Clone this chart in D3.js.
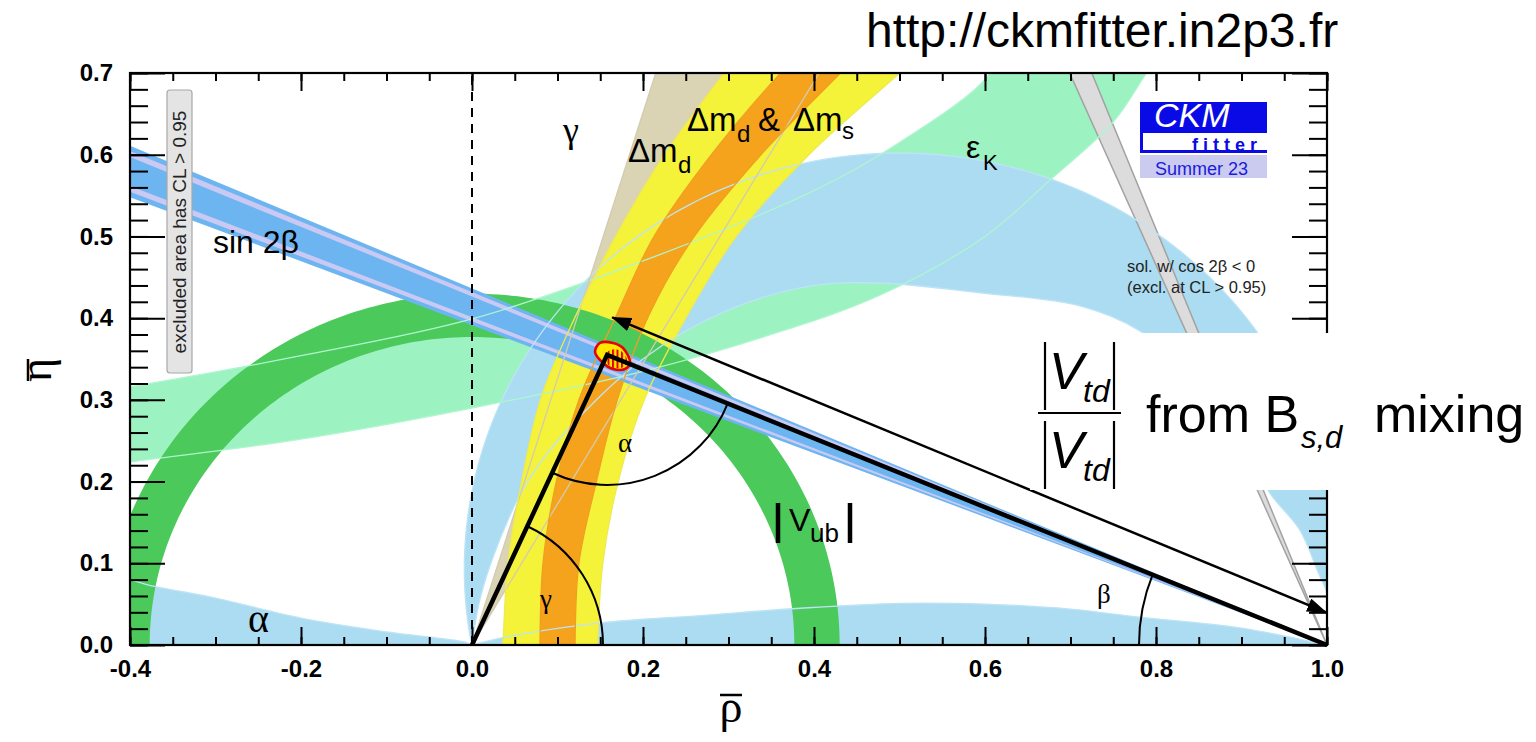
<!DOCTYPE html>
<html>
<head>
<meta charset="utf-8">
<script src="https://cdn.jsdelivr.net/npm/d3@7/dist/d3.min.js"></script>
<style>
  html, body { margin: 0; padding: 0; background: #fff; }
  svg { display: block; }
</style>
</head>
<body>
<svg id="ckm" width="1536" height="742"></svg>
<script>
// CKM unitarity triangle in the (rho-bar, eta-bar) plane

// axis ticks
const xMajor = [-0.4, -0.2, 0.0, 0.2, 0.4, 0.6, 0.8, 1.0];
const xLabels = ["-0.4", "-0.2", "0.0", "0.2", "0.4", "0.6", "0.8", "1.0"];
const yMajor = [0.0, 0.1, 0.2, 0.3, 0.4, 0.5, 0.6, 0.7];
const yLabels = ["0.0", "0.1", "0.2", "0.3", "0.4", "0.5", "0.6", "0.7"];

// alpha: outer circle [rho0, eta0, r] plus the other edges
const alphaOuter = [0.5, 0.093, 0.509];
const alphaInner = [[1.0, 0.065], [0.99, 0.088], [0.968, 0.141], [0.933, 0.186], [0.9, 0.25], [0.84, 0.33],
  [0.78, 0.385], [0.711, 0.415], [0.594, 0.431], [0.477, 0.443], [0.4, 0.44], [0.3, 0.41], [0.2, 0.35],
  [0.1, 0.25], [0.065, 0.2], [0.05, 0.171], [0.022, 0.1], [0.008, 0.05], [0, 0]];
const alphaLeft = [[-0.45, 0.09], [-0.4, 0.080], [-0.377, 0.073], [-0.3, 0.0575], [-0.2, 0.033],
  [-0.1, 0.016], [-0.01, 0.004], [0, 0]];
const alphaBottom = [[0, 0], [0.036, 0.009], [0.15, 0.027], [0.267, 0.036], [0.384, 0.045], [0.5, 0.051],
  [0.6, 0.05], [0.7, 0.044], [0.781, 0.034], [0.898, 0.021], [1.0, 0.0]];

// epsilon_K band edges
const epsLower = [[-0.45, 0.217], [-0.4, 0.224], [-0.2, 0.252], [0, 0.29], [0.2, 0.335], [0.35, 0.38],
  [0.477, 0.428], [0.6, 0.5], [0.676, 0.569], [0.75, 0.64], [0.789, 0.70], [0.81, 0.73]];
const epsUpper = [[-0.45, 0.308], [-0.4, 0.316], [-0.2, 0.354], [0, 0.399], [0.2, 0.47], [0.4, 0.556],
  [0.5, 0.615], [0.6, 0.692], [0.62, 0.73]];

// gamma wedge from the origin: rho/eta of its two edges
const gammaEdges = [0.307, 0.58];

// Delta m_d (yellow) and Delta m_d & Delta m_s (orange)
const dmdOuter = [[0.035, -0.01], [0.036, 0], [0.042, 0.1], [0.058, 0.2], [0.08, 0.3], [0.12, 0.4],
  [0.168, 0.5], [0.225, 0.6], [0.295, 0.7], [0.31, 0.72]];
const dmdInner = [[0.147, -0.01], [0.147, 0], [0.153, 0.1], [0.171, 0.2], [0.2015, 0.3], [0.25, 0.4],
  [0.309, 0.5], [0.394, 0.6], [0.5, 0.7], [0.52, 0.72]];
const dmsOuter = [[0.0795, -0.01], [0.0795, 0], [0.083, 0.1], [0.099, 0.202], [0.125, 0.3], [0.17, 0.406],
  [0.213, 0.5], [0.28, 0.6], [0.361, 0.7], [0.38, 0.72]];
const dmsInner = [[0.1205, -0.01], [0.1205, 0], [0.125, 0.1], [0.146, 0.202], [0.17, 0.3], [0.208, 0.406],
  [0.26, 0.5], [0.338, 0.6], [0.431, 0.7], [0.45, 0.72]];

// |Vub| annulus around the origin
const vubRadii = [0.377, 0.430];

// sin 2beta wedge from (1,0): slopes eta/(1-rho)
const sin2bBand = [0.3914, 0.4364];
const sin2bStripes = [[0.3962, 0.4012], [0.4265, 0.4318]];
// cos 2beta < 0 solution: (1-rho)/eta of its edges
const cos2bNeg = [0.393, 0.430];

// global fit
const apex = [0.158, 0.355];
const fitOuter = [[0.1439, 0.3586], [0.1497, 0.3696], [0.1649, 0.3696], [0.1766, 0.3635], [0.1848, 0.3452],
  [0.1789, 0.3378], [0.1649, 0.3378], [0.152, 0.3464]];
const fitInner = [[0.156, 0.355], [0.162, 0.361], [0.172, 0.361], [0.18, 0.353], [0.181, 0.344],
  [0.174, 0.339], [0.163, 0.34], [0.157, 0.347]];

// |Vtd| ratio arrow
const vtdArrow = [[0.164, 0.401], [0.999, 0.040]];

const SANS = "'Liberation Sans', Arial, Helvetica, sans-serif";
const SERIF = "'Liberation Serif', 'Times New Roman', serif";

const svg = d3.select("#ckm");
const x = d3.scaleLinear().domain([-0.4, 1.0]).range([130, 1327]);
const y = d3.scaleLinear().domain([0, 0.7]).range([645, 73]);

const defs = svg.append("defs");
defs.append("clipPath").attr("id", "plotClip").append("rect")
  .attr("x", x(-0.4)).attr("y", y(0.7))
  .attr("width", x(1.0) - x(-0.4)).attr("height", y(0) - y(0.7));
defs.append("pattern").attr("id", "hatch").attr("patternUnits", "userSpaceOnUse")
  .attr("width", 4.5).attr("height", 8)
  .append("rect").attr("width", 2).attr("height", 8).attr("fill", "#e00000");
defs.append("marker").attr("id", "head").attr("viewBox", "0 0 20 14")
  .attr("refX", 19).attr("refY", 7).attr("markerWidth", 20).attr("markerHeight", 14)
  .attr("markerUnits", "userSpaceOnUse").attr("orient", "auto-start-reverse")
  .append("path").attr("d", "M0,0L20,7L0,14Z").attr("fill", "#000");

const lin = d3.line().x(d => x(d[0])).y(d => y(d[1]));
const smooth = d3.line().x(d => x(d[0])).y(d => y(d[1])).curve(d3.curveCatmullRom.alpha(0.5));
const closedSmooth = d3.line().x(d => x(d[0])).y(d => y(d[1])).curve(d3.curveCatmullRomClosed.alpha(0.5));

function circlePts(cx, cy, r, a0, a1, n) {
  const pts = [];
  for (let i = 0; i <= n; i++) {
    const a = (a0 + (a1 - a0) * i / n) * Math.PI / 180;
    pts.push([cx + r * Math.cos(a), cy + r * Math.sin(a)]);
  }
  return pts;
}
// two smooth edges joined into one closed band
function bandPath(a, b) {
  return smooth(a) + "L" + smooth(b.slice().reverse()).slice(1) + "Z";
}

const plot = svg.append("g").attr("clip-path", "url(#plotClip)");

// epsilon_K (mint), lies under alpha
plot.append("path").attr("d", bandPath(epsLower, epsUpper)).attr("fill", "#9cf3c1");

// alpha (light blue)
const alphaArc = circlePts(alphaOuter[0], alphaOuter[1], alphaOuter[2], 190.5, -10.5, 160);
plot.append("path").attr("d", lin(alphaArc) + "L" + smooth(alphaInner).slice(1) + "Z").attr("fill", "#abdcf1");
plot.append("path").attr("d", smooth(alphaLeft) + "L" + x(0) + "," + y(-0.02) + "L" + x(-0.45) + "," + y(-0.02) + "Z")
  .attr("fill", "#abdcf1");
plot.append("path").attr("d", smooth(alphaBottom) + "L" + x(1) + "," + y(-0.02) + "L" + x(0) + "," + y(-0.02) + "Z")
  .attr("fill", "#abdcf1");

// gamma wedge (khaki)
plot.append("path").attr("d", lin([[0, 0], [gammaEdges[0] * 0.75, 0.75], [gammaEdges[1] * 0.75, 0.75]]) + "Z")
  .attr("fill", "#dad3b4");

// Delta m_d (yellow) then Delta m_d & Delta m_s (orange)
plot.append("path").attr("d", bandPath(dmdOuter, dmdInner)).attr("fill", "#f5f23a");
plot.append("path").attr("d", bandPath(dmsOuter, dmsInner)).attr("fill", "#f5a31c");

// |Vub| ring (green)
const vubOut = circlePts(0, 0, vubRadii[1], -2, 182, 180);
const vubIn = circlePts(0, 0, vubRadii[0], -2, 182, 180);
plot.append("path").attr("d", lin(vubOut.concat(vubIn.reverse())) + "Z").attr("fill", "#4bc95b");

// sin 2beta wedge (blue with lavender stripes)
function wedge(s0, s1) {
  return lin([[1, 0], [-0.5, 1.5 * s0], [-0.5, 1.5 * s1]]) + "Z";
}
plot.append("path").attr("d", wedge(sin2bBand[0], sin2bBand[1])).attr("fill", "#6db5f1");
sin2bStripes.forEach(s => plot.append("path").attr("d", wedge(s[0], s[1])).attr("fill", "#c9c9f4"));

// cos 2beta < 0 solution (gray)
plot.append("path")
  .attr("d", lin([[1, 0], [1 - cos2bNeg[0] * 0.75, 0.75], [1 - cos2bNeg[1] * 0.75, 0.75]]) + "Z")
  .attr("fill", "#dcdcdc").attr("stroke", "#a2a2a2").attr("stroke-width", 1.5);

// contour lines of the individual constraints
const contours = plot.append("g").attr("fill", "none").attr("stroke-width", 1.3);
contours.append("path").attr("d", lin(alphaArc)).attr("stroke", "#bde4f6");
contours.append("path").attr("d", smooth(alphaInner)).attr("stroke", "#bde4f6");
contours.append("path").attr("d", smooth(alphaLeft)).attr("stroke", "#bde4f6");
contours.append("path").attr("d", smooth(alphaBottom)).attr("stroke", "#bde4f6");
contours.append("path").attr("d", smooth(epsLower)).attr("stroke", "#aef6cf");
contours.append("path").attr("d", smooth(epsUpper)).attr("stroke", "#aef6cf");
gammaEdges.forEach(g => contours.append("path").attr("d", lin([[0, 0], [g * 0.75, 0.75]])).attr("stroke", "#d2cbb0"));
[dmdOuter, dmdInner].forEach(e => contours.append("path").attr("d", smooth(e)).attr("stroke", "#eeea50"));
[dmsOuter, dmsInner].forEach(e => contours.append("path").attr("d", smooth(e)).attr("stroke", "#f0a020"));

// global fit region at the apex
plot.append("path").attr("d", closedSmooth(fitOuter)).attr("fill", "#ffe800")
  .attr("stroke", "#e6000a").attr("stroke-width", 2.6);
plot.append("path").attr("d", closedSmooth(fitInner)).attr("fill", "url(#hatch)");

// rho = 0 dashed line
svg.append("line").attr("x1", x(0)).attr("x2", x(0)).attr("y1", y(0)).attr("y2", y(0.7))
  .attr("stroke", "#000").attr("stroke-width", 2).attr("stroke-dasharray", "9,7");

// unitarity triangle
svg.append("path").attr("d", lin([[0, 0], apex, [1, 0]])).attr("fill", "none")
  .attr("stroke", "#000").attr("stroke-width", 4.5).attr("stroke-linejoin", "miter");

// angle arcs (pixel space)
function angleArc(c, p1, p2, r) {
  const a1 = Math.atan2(p1[1] - c[1], p1[0] - c[0]);
  const a2 = Math.atan2(p2[1] - c[1], p2[0] - c[0]);
  let d = a2 - a1;
  while (d > Math.PI) d -= 2 * Math.PI;
  while (d < -Math.PI) d += 2 * Math.PI;
  const s = [c[0] + r * Math.cos(a1), c[1] + r * Math.sin(a1)];
  const e = [c[0] + r * Math.cos(a2), c[1] + r * Math.sin(a2)];
  return `M${s[0]},${s[1]}A${r},${r} 0 0 ${d > 0 ? 1 : 0} ${e[0]},${e[1]}`;
}
const P = d => [x(d[0]), y(d[1])];
const arcs = svg.append("g").attr("fill", "none").attr("stroke", "#000").attr("stroke-width", 2);
arcs.append("path").attr("d", angleArc(P(apex), P([0, 0]), P([1, 0]), 130));
arcs.append("path").attr("d", angleArc(P([0, 0]), P([1, 0]), P(apex), 131));
arcs.append("path").attr("d", angleArc(P([1, 0]), P([0, 0]), P(apex), 188));

// |Vtd| double arrow
svg.append("line")
  .attr("x1", x(vtdArrow[0][0])).attr("y1", y(vtdArrow[0][1]))
  .attr("x2", x(vtdArrow[1][0])).attr("y2", y(vtdArrow[1][1]))
  .attr("stroke", "#000").attr("stroke-width", 2.5)
  .attr("marker-start", "url(#head)").attr("marker-end", "url(#head)");

// axes with inward ticks on all four sides
function styleAxis(g) {
  g.select(".domain").remove();
  g.selectAll("line").attr("stroke", "#000").attr("stroke-width", 2);
  g.attr("font-family", SANS).attr("font-size", 24).attr("font-weight", "bold");
  g.selectAll("text").attr("fill", "#000");
}
const xMinor = d3.range(0, 29).map(i => -0.4 + i * 0.05);
const yMinor = d3.range(0, 36).map(i => i * 0.02);
svg.append("g").attr("transform", `translate(0,${y(0)})`)
  .call(d3.axisBottom(x).tickValues(xMinor).tickSize(-8).tickFormat("")).call(styleAxis);
svg.append("g").attr("transform", `translate(0,${y(0)})`)
  .call(d3.axisBottom(x).tickValues(xMajor).tickSize(-18).tickPadding(15).tickFormat((d, i) => xLabels[i]))
  .call(styleAxis);
svg.append("g").attr("transform", `translate(0,${y(0.7)})`)
  .call(d3.axisTop(x).tickValues(xMinor).tickSize(-8).tickFormat("")).call(styleAxis);
svg.append("g").attr("transform", `translate(0,${y(0.7)})`)
  .call(d3.axisTop(x).tickValues(xMajor).tickSize(-18).tickFormat("")).call(styleAxis);
svg.append("g").attr("transform", `translate(${x(-0.4)},0)`)
  .call(d3.axisLeft(y).tickValues(yMinor).tickSize(-18).tickFormat("")).call(styleAxis);
svg.append("g").attr("transform", `translate(${x(-0.4)},0)`)
  .call(d3.axisLeft(y).tickValues(yMajor).tickSize(-35).tickPadding(17).tickFormat((d, i) => yLabels[i]))
  .call(styleAxis);
svg.append("g").attr("transform", `translate(${x(1.0)},0)`)
  .call(d3.axisRight(y).tickValues(yMinor).tickSize(-18).tickFormat("")).call(styleAxis);
svg.append("g").attr("transform", `translate(${x(1.0)},0)`)
  .call(d3.axisRight(y).tickValues(yMajor).tickSize(-35).tickFormat("")).call(styleAxis);

// frame
svg.append("rect").attr("x", x(-0.4)).attr("y", y(0.7))
  .attr("width", x(1.0) - x(-0.4)).attr("height", y(0) - y(0.7))
  .attr("fill", "none").attr("stroke", "#000").attr("stroke-width", 2.2);

// text helper
function label(str, px, py, size, opts = {}) {
  return svg.append("text").attr("x", px).attr("y", py)
    .attr("font-family", opts.family || SANS).attr("font-size", size)
    .attr("font-style", opts.italic ? "italic" : null)
    .attr("font-weight", opts.bold ? "bold" : null)
    .attr("letter-spacing", opts.spacing || null)
    .attr("text-anchor", opts.anchor || "start")
    .attr("fill", opts.fill || "#000").text(str);
}

// axis titles
const etaT = svg.append("g").attr("transform", "translate(51,370) rotate(-90)");
etaT.append("text").attr("text-anchor", "middle").attr("font-family", SERIF).attr("font-size", 46).text("η");
etaT.append("line").attr("x1", -11).attr("x2", 11).attr("y1", -23).attr("y2", -23).attr("stroke", "#000").attr("stroke-width", 2.5);
label("ρ", 731, 722, 46, { family: SERIF, anchor: "middle" });
svg.append("line").attr("x1", 720).attr("x2", 742).attr("y1", 695).attr("y2", 695).attr("stroke", "#000").attr("stroke-width", 2.5);

// constraint labels
label("sin 2β", 213, 253, 32);
label("γ", 563, 142, 36, { family: SERIF });
label("Δm", 628, 162, 33); label("d", 678, 173, 24);
label("Δm", 687, 131, 33); label("d", 737, 142, 24); label("&", 758, 131, 33);
label("Δm", 793, 131, 33); label("s", 842, 139, 24);
label("ε", 966, 158, 32); label("K", 983, 170, 22);
label("V", 789, 531, 32); label("ub", 810, 542, 26);
svg.append("line").attr("x1", 778).attr("x2", 778).attr("y1", 503).attr("y2", 543).attr("stroke", "#000").attr("stroke-width", 4.5);
svg.append("line").attr("x1", 850).attr("x2", 850).attr("y1", 503).attr("y2", 543).attr("stroke", "#000").attr("stroke-width", 4.5);
label("α", 248, 632, 40, { family: SERIF });
// angle labels
label("α", 618, 452, 27, { family: SERIF });
label("γ", 540, 608, 27, { family: SERIF });
label("β", 1097, 603, 27, { family: SERIF });

// excluded-area note
svg.append("rect").attr("x", 167).attr("y", 90).attr("width", 25).attr("height", 283).attr("rx", 3)
  .attr("fill", "#e4e4e4").attr("stroke", "#a8a8a8").attr("stroke-width", 1.2);
svg.append("text").attr("transform", "translate(186,232) rotate(-90)").attr("text-anchor", "middle")
  .attr("font-family", SANS).attr("font-size", 19).attr("fill", "#222").text("excluded area has CL > 0.95");

// cos 2beta < 0 note
label("sol. w/ cos 2β < 0", 1127, 272, 16.5, { fill: "#222" });
label("(excl. at CL > 0.95)", 1127, 293, 16.5, { fill: "#222" });

// CKMfitter logo
svg.append("rect").attr("x", 1140).attr("y", 102).attr("width", 127).attr("height", 31).attr("fill", "#0a0ae6");
label("CKM", 1154, 127, 34, { italic: true, fill: "#fff" });
svg.append("rect").attr("x", 1140).attr("y", 133).attr("width", 3).attr("height", 20).attr("fill", "#0a0ae6");
svg.append("rect").attr("x", 1140).attr("y", 150).attr("width", 127).attr("height", 3).attr("fill", "#0a0ae6");
label("fitter", 1262, 151, 18, { bold: true, fill: "#0a0ae6", anchor: "end", spacing: 5 });
svg.append("rect").attr("x", 1140).attr("y", 155).attr("width", 127).attr("height", 23).attr("fill", "#cbcbef");
label("Summer 23", 1155, 175, 18, { fill: "#1a1ae0" });

// web address
label("http://ckmfitter.in2p3.fr", 866, 47, 48);

// |Vtd| ratio label on a white box
svg.append("rect").attr("x", 1030).attr("y", 333).attr("width", 506).attr("height", 157).attr("fill", "#fff");
function vtd(top) {
  svg.append("line").attr("x1", 1045).attr("x2", 1045).attr("y1", top).attr("y2", top + 68).attr("stroke", "#000").attr("stroke-width", 2.2);
  svg.append("line").attr("x1", 1114).attr("x2", 1114).attr("y1", top).attr("y2", top + 68).attr("stroke", "#000").attr("stroke-width", 2.2);
  label("V", 1049, top + 47, 52, { italic: true });
  label("td", 1083, top + 60, 32, { italic: true });
}
vtd(342);
svg.append("line").attr("x1", 1038).attr("x2", 1121).attr("y1", 413).attr("y2", 413).attr("stroke", "#000").attr("stroke-width", 2.2);
vtd(421);
label("from B", 1146, 432, 52);
label("s,d", 1301, 448, 31, { italic: true });
label("mixing", 1374, 432, 52);
</script>
</body>
</html>
